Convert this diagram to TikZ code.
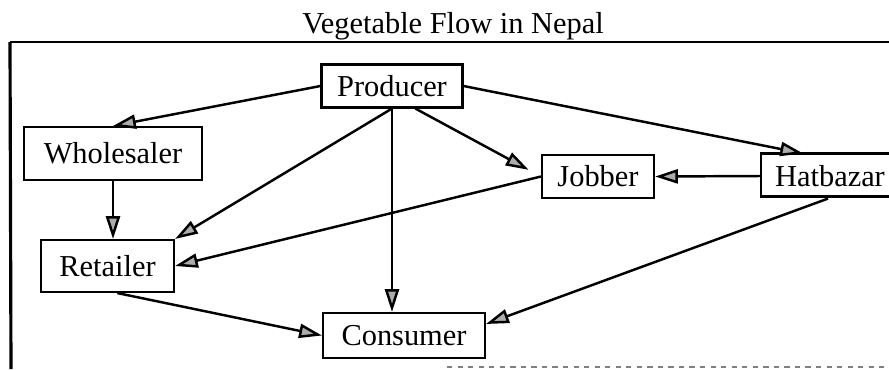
\documentclass[tikz,border=0pt]{standalone}
\usepackage{fontspec}
\setmainfont{Liberation Serif}
\usepackage{tikz}
\usetikzlibrary{arrows.meta}

\begin{document}
\begin{tikzpicture}[x=0.02cm,y=-0.02cm]
\tikzstyle{every node}=[font=\fontsize{17.3}{20}\selectfont]
\tikzstyle{agent}=[draw,line width=1.2pt,inner sep=0pt,minimum height=0.86cm]
\tikzstyle{flow}=[line width=1.4pt,-{Triangle[length=13pt,width=8pt,fill=gray!65]}]
\useasboundingbox (0,0) rectangle (889,369);
\clip (0,0) rectangle (889,369);

%frame
\node [anchor=base] (title) at (453,33) {Vegetable Flow in Nepal};
\path (10,42) coordinate (f0);
\path (889,42) coordinate (f1);
\path (11,369) coordinate (f2);
\path (447,367) coordinate (f3);
\path (889,367) coordinate (f4);
\draw [line width=1.3pt] (f1) -- (f0);
\draw [line width=1.8pt] (f0) -- (f2);
\draw [dashed,gray,line width=.7pt] (f3) -- (f4);

%boxes
\node [agent,minimum width=2.82cm] (prod) at (392,86) {Producer};
\node [agent,minimum width=3.56cm,minimum height=1.06cm] (whole) at (113,153.5) {Wholesaler};
\node [agent,minimum width=2.24cm] (jobb) at (598,176.5) {Jobber};
\node [agent,draw=none,minimum width=2.72cm] (hatb) at (830,176) {Hatbazar};
\node [agent,minimum width=2.66cm,minimum height=1.04cm] (ret) at (107.5,266) {Retailer};
\node [agent,minimum width=3.24cm,minimum height=0.9cm] (cons) at (404,335.5) {Consumer};
%Hatbazar runs past the edge
\draw [line width=1.2pt] (hatb.north west) rectangle +(160,43);

%flows
\draw [flow] (prod.west) -- (whole.north);
\draw [flow] (prod.east) -- (hatb.140);
\draw [flow,shorten >=8pt] (prod.-44) -- (jobb.west);
\draw [flow] (prod.south) -- (ret.north east);
\draw [flow] (prod.south) -- (prod.south |- cons.north);
\draw [flow] (whole.south) -- (whole.south |- ret.north);
\draw [flow] (jobb.west) -- (ret.east);
\draw [flow] (hatb.west) -- (jobb.east);
\draw [flow] (hatb.-95) -- (cons.8);
\draw [flow] (ret.-70) -- (cons.west);
\end{tikzpicture}
\end{document}
